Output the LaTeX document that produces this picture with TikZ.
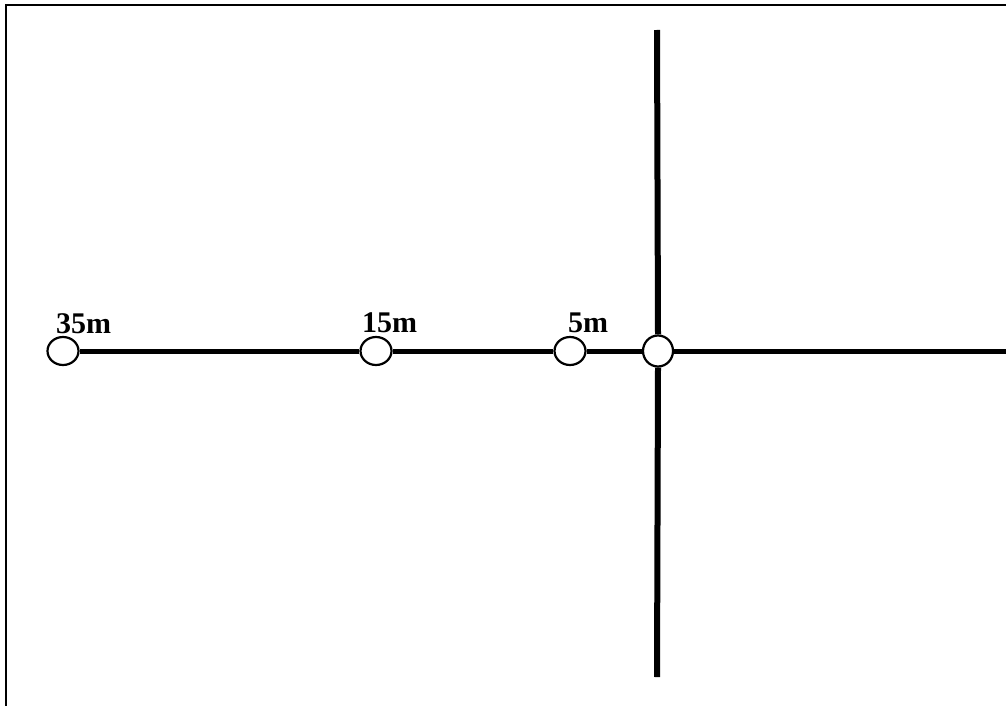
\documentclass[tikz,border=0pt]{standalone}
\usepackage{fontspec}
\setmainfont{Liberation Serif}
\usetikzlibrary{shapes.geometric}
\begin{document}
\begin{tikzpicture}[x=1pt,y=-1pt,
  station/.style={ellipse,draw,fill=white,line width=2.2pt,minimum width=31pt,minimum height=28pt,inner sep=0pt},
  road/.style={line width=5pt},
  cross/.style={line width=6pt},
  lbl/.style={font=\bfseries\fontsize{30}{33}\selectfont,anchor=base west,inner sep=0pt},
  frame/.style={line width=2.2pt}]
\useasboundingbox (0,0) rectangle (1006,706);
\coordinate (fbl) at (6,706);
\coordinate (ftl) at (6,5);
\coordinate (ftr) at (1006,5);
\draw[frame] (fbl) -- (ftl) -- (ftr);
\node[station] (c35) at (63,351) {};
\node[station] (c15) at (376,351) {};
\node[station] (c5) at (570,351) {};
\node[station,minimum width=30pt,minimum height=31pt] (cj) at (658,351) {};
\coordinate (rend) at (1006,351);
\coordinate (vtop) at (657,30);
\coordinate (vbot) at (657,677);
\draw[road] (c35) -- (c15);
\draw[road] (c15) -- (c5);
\draw[road] (c5) -- (cj);
\draw[road] (cj.east) -- (rend);
\draw[cross] (vtop) -- (cj.north);
\draw[cross] (cj.south) -- (vbot);
\node[lbl] (l35) at (56,333) {35m};
\node[lbl] (l15) at (362,332) {15m};
\node[lbl] (l5) at (568,332) {5m};
\end{tikzpicture}
\end{document}
